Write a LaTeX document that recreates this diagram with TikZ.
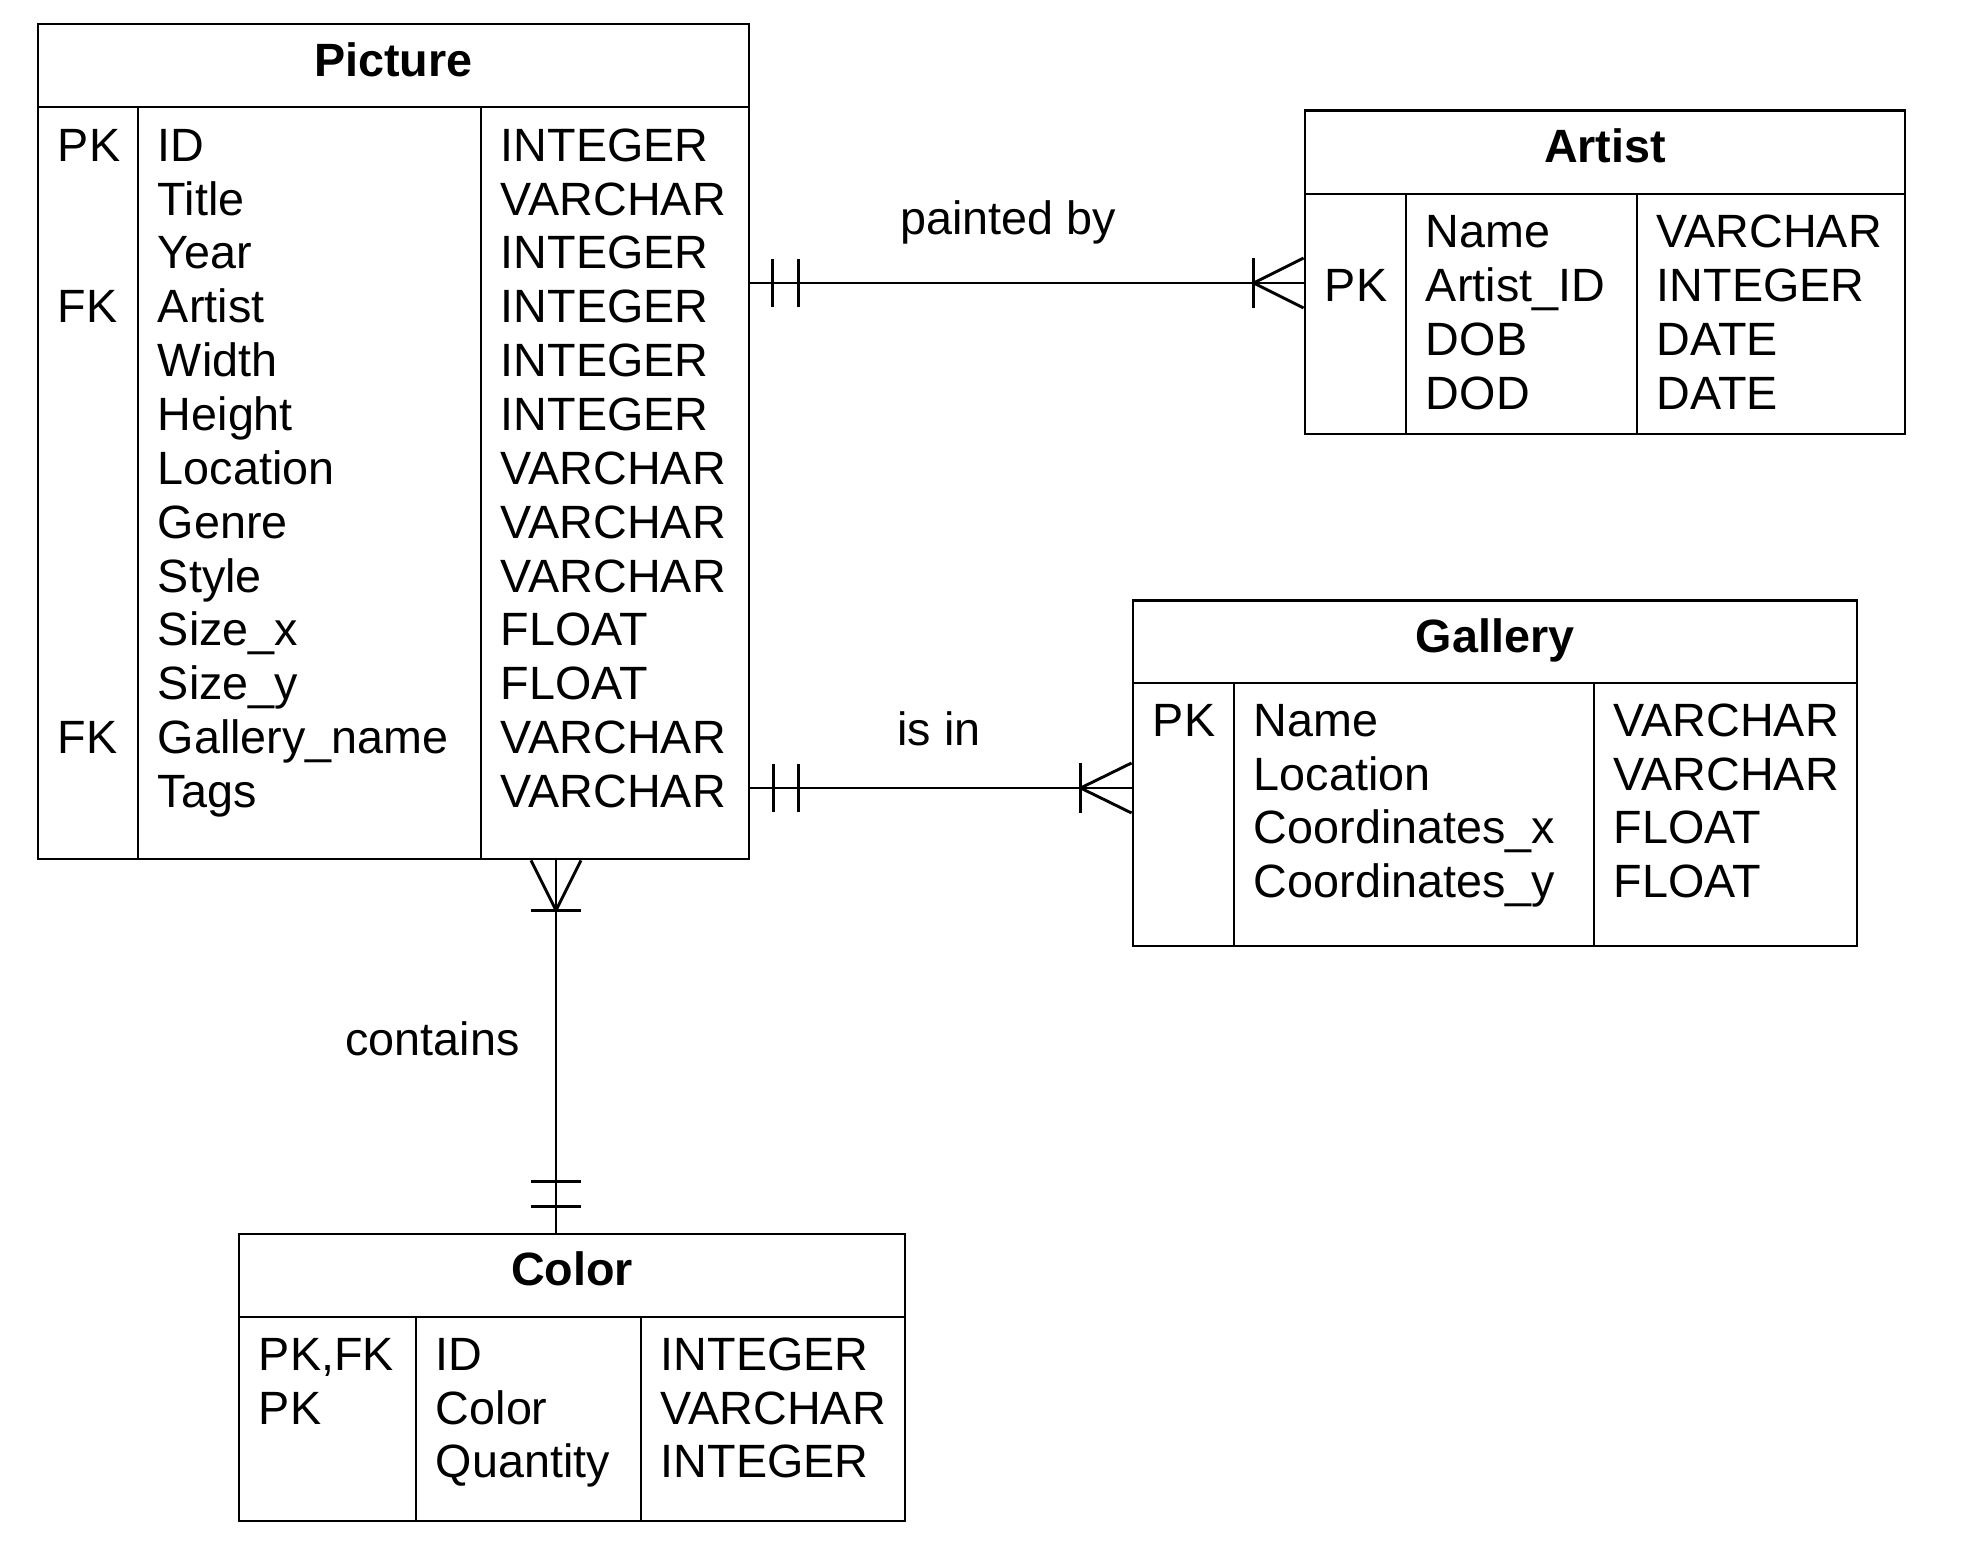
\documentclass[tikz,border=0pt]{standalone}
\usepackage{fontspec}
\setmainfont{Liberation Sans}
\usetikzlibrary{fit,calc}
\begin{document}
\begin{tikzpicture}[x=0.5pt,y=-0.5pt,line width=1.45pt,line cap=butt,
  tbl/.style={draw,inner sep=0pt},
  txt/.style={anchor=base west,inner sep=0pt,font=\fontsize{23.35}{28}\selectfont},
  hdr/.style={anchor=base,inner sep=0pt,font=\fontsize{23.35}{28}\selectfont\bfseries},
  lbl/.style={anchor=base,inner sep=0pt,font=\fontsize{23.35}{28}\selectfont}]
\useasboundingbox (0,0) rectangle (1970,1556);

% ---------- Picture ----------
\node[tbl,fit={(38,24) (749,859)}] (picture) {};
\draw (38,107) -- (749,107);
\draw (138,107) -- (138,859);
\draw (481,107) -- (481,859);
\node[hdr] (pic-h) at (393.5,76.7) {Picture};
\foreach \n/\t [count=\i from 0] in {ID/INTEGER,Title/VARCHAR,Year/INTEGER,Artist/INTEGER,Width/INTEGER,Height/INTEGER,Location/VARCHAR,Genre/VARCHAR,Style/VARCHAR,Size\_x/FLOAT,Size\_y/FLOAT,Gallery\_name/VARCHAR,Tags/VARCHAR}{
  \node[txt] (pn\i) at (156.5,{161.3+53.85*\i}) {\n};
  \node[txt] (pt\i) at (499.5,{161.3+53.85*\i}) {\t};
}
\node[txt] (pk0) at (56.5,161.3) {PK};
\node[txt] (pk3) at (56.5,{161.3+53.85*3}) {FK};
\node[txt] (pk11) at (56.5,{161.3+53.85*11}) {FK};

% ---------- Artist ----------
\node[tbl,fit={(1305,110.7) (1905,434)}] (artist) {};
\draw (1305,194) -- (1905,194);
\draw (1406,194) -- (1406,434);
\draw (1637,194) -- (1637,434);
\node[hdr] (art-h) at (1605,162.7) {Artist};
\foreach \n/\t [count=\i from 0] in {Name/VARCHAR,Artist\_ID/INTEGER,DOB/DATE,DOD/DATE}{
  \node[txt] (an\i) at (1424.5,{247.7+54*\i}) {\n};
  \node[txt] (at\i) at (1655.5,{247.7+54*\i}) {\t};
}
\node[txt] (ak1) at (1323.5,301.7) {PK};

% ---------- Gallery ----------
\node[tbl,fit={(1133,600.7) (1857,946)}] (gallery) {};
\draw (1133,683) -- (1857,683);
\draw (1234,683) -- (1234,946);
\draw (1594,683) -- (1594,946);
\node[hdr] (gal-h) at (1495,652.7) {Gallery};
\foreach \n/\t [count=\i from 0] in {Name/VARCHAR,Location/VARCHAR,Coordinates\_x/FLOAT,Coordinates\_y/FLOAT}{
  \node[txt] (gn\i) at (1252.5,{736.5+53.6*\i}) {\n};
  \node[txt] (gt\i) at (1612.5,{736.5+53.6*\i}) {\t};
}
\node[txt] (gk0) at (1151.5,736.5) {PK};

% ---------- Color ----------
\node[tbl,fit={(239,1234) (905,1521)}] (color) {};
\draw (239,1317) -- (905,1317);
\draw (416,1317) -- (416,1521);
\draw (641,1317) -- (641,1521);
\node[hdr] (col-h) at (572,1285) {Color};
\foreach \n/\t [count=\i from 0] in {ID/INTEGER,Color/VARCHAR,Quantity/INTEGER}{
  \node[txt] (cn\i) at (434.5,{1370.5+53.5*\i}) {\n};
  \node[txt] (ct\i) at (659.5,{1370.5+53.5*\i}) {\t};
}
\node[txt] (ck0) at (257.5,1370.5) {PK,FK};
\node[txt] (ck1) at (257.5,1424) {PK};

% ---------- painted by ----------
\coordinate (ya) at (0,283);
\draw (picture.east |- ya) -- (artist.west |- ya);
\draw ($(picture.east |- ya)+(22,-24)$) -- ++(0,48);
\draw ($(picture.east |- ya)+(48,-24)$) -- ++(0,48);
\draw ($(artist.west |- ya)+(-50,-25)$) -- ++(0,50);
\draw ($(artist.west |- ya)+(0,-25)$) -- ($(artist.west |- ya)+(-50,0)$) -- ($(artist.west |- ya)+(0,25)$);
\node[lbl] (l-painted) at (1008,235) {painted by};

% ---------- is in ----------
\coordinate (yg) at (0,788);
\draw (picture.east |- yg) -- (gallery.west |- yg);
\draw ($(picture.east |- yg)+(23,-24)$) -- ++(0,48);
\draw ($(picture.east |- yg)+(48,-24)$) -- ++(0,48);
\draw ($(gallery.west |- yg)+(-51,-25)$) -- ++(0,50);
\draw ($(gallery.west |- yg)+(0,-25)$) -- ($(gallery.west |- yg)+(-51,0)$) -- ($(gallery.west |- yg)+(0,25)$);
\node[lbl] (l-isin) at (939,745) {is in};

% ---------- contains ----------
\coordinate (xc) at (556,0);
\draw (picture.south -| xc) -- (color.north -| xc);
\draw ($(picture.south -| xc)+(-25,50)$) -- ++(50,0);
\draw ($(picture.south -| xc)+(-25,0)$) -- ($(picture.south -| xc)+(0,50)$) -- ($(picture.south -| xc)+(25,0)$);
\draw ($(color.north -| xc)+(-25,-26)$) -- ++(50,0);
\draw ($(color.north -| xc)+(-25,-51)$) -- ++(50,0);
\node[lbl] (l-contains) at (432.5,1055) {contains};
\end{tikzpicture}
\end{document}
